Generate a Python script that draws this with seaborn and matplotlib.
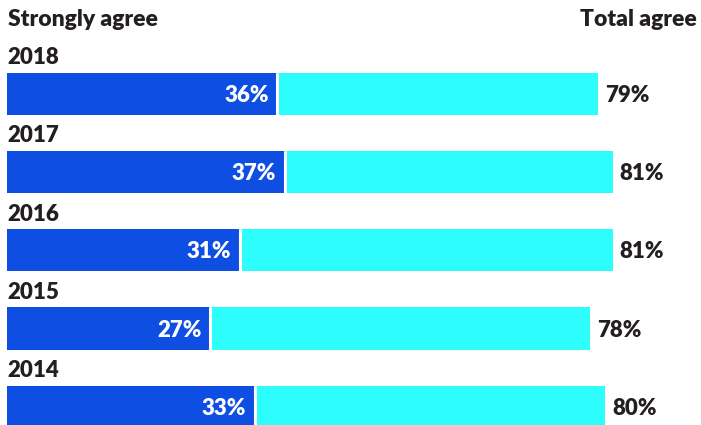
import matplotlib
matplotlib.use("Agg")
import matplotlib.pyplot as plt
import seaborn as sns
import pandas as pd

years = ["2018", "2017", "2016", "2015", "2014"]
strongly_agree = [36, 37, 31, 27, 33]
total_agree = [79, 81, 81, 78, 80]

DARK = "#0F4EE2"
CYAN = "#2DFDFC"
TXT = "#231F20"

sns.set_theme(style="white")
plt.rcParams["font.family"] = ["Lato", "DejaVu Sans"]

df = pd.DataFrame({"year": years, "strong": strongly_agree, "total": total_agree})

fig = plt.figure(figsize=(7.01, 4.25), dpi=100)
ax = fig.add_axes([0, 0, 1, 1])

bw = 0.54
sns.barplot(data=df, y="year", x="total", order=years, color=CYAN, width=bw,
            orient="h", ax=ax, saturation=1, linewidth=0)
sns.barplot(data=df, y="year", x="strong", order=years, color=DARK, width=bw,
            orient="h", ax=ax, saturation=1, linewidth=0)

W = "heavy"
for i, (s, t) in enumerate(zip(strongly_agree, total_agree)):
    ax.vlines(s + 0.15, i - bw / 2, i + bw / 2, color="white", linewidth=2.2)
    ax.text(s - 1.0, i + 0.02, f"{s}%", ha="right", va="center", color="white",
            fontsize=16, fontweight=W)
    ax.text(t + 0.9, i + 0.02, f"{t}%", ha="left", va="center", color=TXT,
            fontsize=16, fontweight=W)
    ax.text(0.1, i - bw / 2 - 0.06, years[i], ha="left", va="bottom", color=TXT,
            fontsize=16, fontweight=W)

ax.set_xlim(-0.936, 92.78)
ax.set_ylim(4.233, -1.202)
ax.axis("off")

fig.text(8 / 701, 1 - 26 / 425, "Strongly agree", ha="left", va="baseline",
         color=TXT, fontsize=16.5, fontweight=W)
fig.text(697 / 701, 1 - 26 / 425, "Total agree", ha="right", va="baseline",
         color=TXT, fontsize=16.5, fontweight=W)

fig.savefig("out.png", dpi=100)
